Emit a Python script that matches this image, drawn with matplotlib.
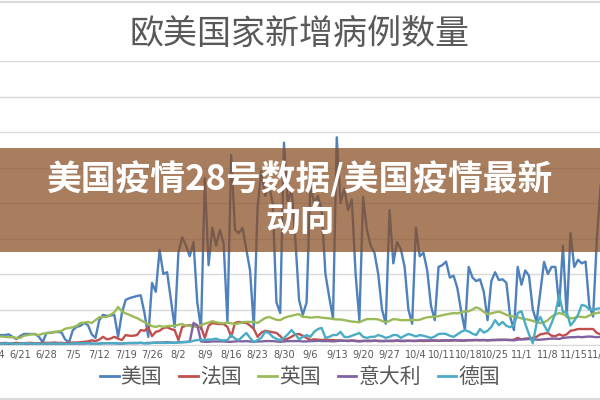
import matplotlib
matplotlib.use('Agg')
import matplotlib.pyplot as plt
import matplotlib.transforms as mtransforms
from matplotlib.lines import Line2D
from matplotlib.patches import Rectangle
import numpy as np

plt.rcParams['font.family'] = ['Noto Sans CJK SC', 'DejaVu Sans']

# daily new cases (thousands), day 1 = 6/15 ... day 161 = 11/22
tick_labels = ['6/14', '6/21', '6/28', '7/5', '7/12', '7/19', '7/26', '8/2',
               '8/9', '8/16', '8/23', '8/30', '9/6', '9/13', '9/20', '9/27',
               '10/4', '10/11', '10/18', '10/25', '11/1', '11/8', '11/15', '11/22']
series_names = ['美国', '法国', '英国', '意大利', '德国']

us = [2.8, 2.8, 2.8, 3.0, 2.3, 1.7, 2.5,
      3.1, 3.1, 3.1, 3.1, 2.3, 0.8, 3.4,
      3.4, 3.6, 3.7, 3.5, 1.5, 0.8, 4.2,
      5.1, 5.4, 6.2, 5.6, 3.0, 2.0, 7.0,
      8.5, 8.2, 8.3, 8.5, 2.3, 9.0, 12.7,
      13.2, 13.5, 13.8, 14.0, 9.0, 2.3, 17.5,
      15.0, 26.8, 20.0, 20.5, 12.7, 5.0, 26.0,
      30.4, 28.0, 25.0, 29.0, 12.0, 4.5, 47.0,
      22.5, 33.0, 28.0, 32.4, 28.5, 6.5, 53.5,
      32.5, 31.5, 33.0, 27.0, 21.0, 5.0, 39.0,
      49.0, 42.0, 45.0, 40.0, 12.0, 9.0, 57.0,
      40.0, 44.0, 30.0, 12.7, 8.5, 12.0, 45.0,
      40.0, 42.0, 38.0, 20.0, 13.5, 7.5, 58.5,
      40.0, 44.0, 38.0, 41.0, 20.0, 7.0, 41.7,
      32.4, 28.0, 26.0, 20.0, 10.0, 6.0, 38.0,
      23.0, 29.0, 27.0, 22.0, 10.0, 6.0, 33.0,
      25.0, 26.0, 21.0, 11.0, 7.0, 22.0, 22.5,
      23.5, 19.0, 19.5, 16.0, 9.5, 4.2, 22.0,
      19.0, 18.0, 18.5, 15.0, 7.0, 18.0, 20.5,
      18.3, 18.5, 17.5, 8.0, 4.2, 22.0, 17.0,
      21.0, 19.5, 10.0, 6.5, 15.0, 23.4, 20.0,
      22.0, 22.0, 11.0, 28.0, 7.9, 31.5, 22.0,
      24.0, 23.0, 23.5, 11.0, 8.0, 30.0, 45.0]

fr = [0.5, 0.5, 0.6, 0.5, 0.5, 0.6, 0.5,
      0.5, 0.6, 0.6, 0.5, 0.5, 0.6, 0.6,
      0.6, 0.7, 0.6, 0.6, 0.5, 0.6, 0.7,
      0.7, 0.8, 0.9, 1.0, 1.3, 1.1, 1.5,
      2.3, 1.6, 1.8, 2.3, 1.8, 1.4, 2.8,
      2.6, 2.6, 2.8, 4.2, 4.0, 5.0, 2.5,
      3.7, 4.0, 4.8, 5.0, 4.5, 4.2, 1.4,
      5.1, 5.4, 5.6, 5.4, 5.2, 5.0, 2.0,
      5.4, 6.2, 6.0, 5.9, 5.9, 5.1, 2.3,
      6.2, 6.5, 6.3, 6.2, 5.5, 4.5, 2.3,
      3.5, 4.0, 3.8, 3.6, 3.4, 2.5, 1.4,
      1.8, 2.3, 3.0, 3.1, 2.6, 2.0, 1.4,
      1.6, 1.5, 1.4, 1.5, 1.4, 1.4, 1.3,
      1.3, 1.2, 1.2, 1.3, 1.2, 1.1, 1.2,
      1.1, 1.1, 1.2, 1.1, 1.1, 1.2, 1.1,
      1.1, 1.2, 1.1, 1.1, 1.2, 1.2, 1.1,
      1.2, 1.1, 1.2, 1.2, 1.3, 1.2, 1.2,
      1.3, 1.2, 1.3, 1.3, 1.2, 1.3, 1.4,
      1.3, 1.4, 1.3, 1.4, 1.3, 1.4, 1.4,
      1.4, 1.4, 1.5, 1.4, 1.5, 2.0, 1.6,
      1.8, 1.9, 2.0, 2.3, 3.0, 3.2, 3.4,
      2.6, 2.5, 3.0, 2.6, 3.0, 4.0, 4.2,
      4.5, 4.5, 4.5, 4.5, 4.5, 3.4, 3.0]

uk = [2.3, 2.4, 2.3, 2.2, 2.2, 2.0, 2.0,
      2.6, 2.8, 3.0, 3.0, 2.8, 3.2, 3.3,
      3.5, 3.7, 3.8, 4.0, 4.6, 4.8, 5.0,
      5.4, 6.2, 6.3, 6.5, 6.2, 7.0, 7.8,
      7.9, 7.9, 8.5, 9.2, 10.7, 9.5, 8.9,
      8.5, 8.0, 7.6, 7.0, 6.4, 5.9, 5.3,
      5.1, 5.4, 5.1, 5.3, 5.4, 5.4, 5.7,
      5.9, 5.4, 5.4, 5.2, 5.1, 5.6, 6.0,
      6.3, 6.7, 6.4, 6.2, 6.1, 6.3, 6.1,
      5.9, 6.1, 6.4, 6.5, 6.5, 6.5, 6.2,
      6.9, 7.6, 7.9, 7.5, 7.1, 7.0, 7.6,
      8.0, 8.2, 8.5, 8.7, 7.9, 7.9, 7.7,
      7.8, 7.9, 7.7, 7.6, 7.5, 7.3, 7.2,
      7.2, 7.0, 6.8, 6.6, 6.5, 6.4, 6.9,
      7.3, 7.3, 7.3, 7.2, 6.8, 6.4, 6.8,
      7.3, 7.2, 7.0, 7.0, 7.0, 7.1, 7.0,
      7.1, 7.5, 7.8, 7.9, 8.0, 8.1, 8.4,
      8.6, 8.8, 9.0, 8.9, 9.2, 9.4, 9.5,
      10.0, 10.6, 10.2, 9.3, 8.7, 8.9, 9.2,
      9.4, 9.0, 8.5, 8.2, 8.0, 7.8, 7.5,
      7.3, 7.1, 6.8, 6.4, 6.2, 6.4, 7.0,
      8.0, 8.6, 9.0, 8.7, 8.1, 7.5, 7.6,
      8.0, 7.9, 7.8, 8.3, 8.8, 9.0, 9.2]

it = [0.3, 0.3, 0.3, 0.3, 0.3, 0.2, 0.3,
      0.3, 0.3, 0.3, 0.3, 0.3, 0.2, 0.3,
      0.3, 0.3, 0.3, 0.3, 0.3, 0.2, 0.4,
      0.4, 0.4, 0.4, 0.5, 0.4, 0.3, 0.4,
      0.5, 0.5, 0.5, 0.5, 0.4, 0.4, 0.5,
      0.5, 0.5, 0.5, 0.6, 0.5, 0.6, 0.6,
      0.7, 0.7, 0.7, 0.8, 0.7, 0.6, 0.8,
      0.8, 0.9, 0.9, 6.2, 5.6, 1.0, 0.9,
      0.9, 1.0, 1.0, 1.0, 1.0, 0.9, 0.9,
      1.0, 1.1, 1.0, 1.1, 1.0, 0.9, 1.0,
      1.0, 1.1, 1.1, 1.1, 1.0, 0.9, 1.0,
      1.1, 1.1, 1.1, 1.1, 1.0, 1.0, 1.1,
      1.1, 1.2, 1.1, 1.1, 1.1, 1.0, 1.1,
      1.2, 1.2, 1.1, 1.2, 1.1, 1.0, 1.1,
      1.2, 1.2, 1.2, 1.2, 1.1, 1.1, 1.2,
      1.2, 1.3, 1.2, 1.2, 1.2, 1.1, 1.2,
      1.3, 1.3, 1.3, 1.3, 1.2, 1.2, 1.3,
      1.3, 1.3, 1.4, 1.3, 1.3, 1.2, 1.3,
      1.4, 1.4, 1.4, 1.4, 1.3, 1.4, 1.4,
      1.5, 1.5, 1.4, 1.4, 1.3, 1.5, 1.6,
      1.6, 1.7, 1.6, 1.5, 1.5, 1.6, 1.7,
      1.8, 1.8, 1.7, 2.0, 2.1, 2.2, 2.2,
      2.3, 2.2, 2.3, 2.4, 2.3, 2.2, 2.3]

de = [0.4, 0.4, 0.4, 0.5, 0.4, 0.3, 0.4,
      0.4, 0.5, 0.4, 0.4, 0.3, 0.3, 0.4,
      0.4, 0.4, 0.4, 0.4, 0.3, 0.3, 0.4,
      0.5, 0.5, 0.5, 0.5, 0.4, 0.3, 0.4,
      0.5, 0.5, 0.5, 0.5, 0.4, 0.4, 0.5,
      0.6, 0.6, 0.6, 0.6, 0.5, 0.4, 0.6,
      0.6, 0.6, 0.6, 0.6, 0.7, 0.6, 0.7,
      0.8, 0.8, 0.9, 1.2, 1.4, 1.4, 1.4,
      1.5, 1.6, 1.8, 1.4, 1.3, 1.4, 2.8,
      1.8, 1.4, 2.4, 3.4, 2.0, 0.8, 1.4,
      2.0, 3.7, 3.4, 2.3, 1.7, 1.4, 2.0,
      3.0, 4.2, 3.0, 1.6, 2.3, 2.8, 2.3,
      3.7, 4.5, 4.8, 2.0, 2.3, 2.8, 2.8,
      3.7, 2.3, 2.2, 2.6, 3.0, 3.4, 2.3,
      2.0, 2.3, 2.3, 2.8, 2.5, 2.0, 2.3,
      2.8, 2.8, 2.0, 2.6, 3.1, 2.8, 2.4,
      2.8, 2.6, 2.3, 2.0, 2.4, 3.1, 3.2,
      3.1, 2.6, 2.3, 3.0, 3.7, 4.2, 3.8,
      3.2, 2.8, 4.5, 3.5, 4.0, 5.1, 7.0,
      5.6, 6.5, 5.4, 5.0, 5.6, 9.0, 9.5,
      6.0, 3.0, 0.5, 6.0, 7.9, 5.6, 3.7,
      6.2, 9.0, 14.0, 9.3, 9.3, 5.5, 6.8,
      8.5, 11.3, 11.0, 10.0, 9.9, 10.2, 10.4]

colors = ['#4F81BD', '#C0504D', '#9BBB59', '#8064A2', '#4BACC6']
grey_text = '#595959'
grid_grey = '#D9D9D9'

fig = plt.figure(figsize=(6, 4), dpi=100)
fig.patch.set_facecolor('white')

# plot area: x axis at y=345px, top gridline at y=61px
ax = fig.add_axes([0, 55 / 400, 1, 284 / 400])
days = np.arange(1, len(us) + 1)
for vals, c in zip([us, fr, uk, it, de], colors):
    ax.plot(days, vals, color=c, lw=1.7, solid_joinstyle='round')

ax.set_xlim(1.671, 160.83)
ax.set_ylim(0, 80)
ax.set_yticks(np.arange(0, 81, 10))
ax.yaxis.grid(True, color=grid_grey, lw=1)
ax.set_axisbelow(True)
ax.tick_params(left=False, labelleft=False, bottom=False, labelbottom=False)
for side in ['top', 'left', 'right']:
    ax.spines[side].set_visible(False)
ax.spines['bottom'].set_color(grid_grey)

# weekly date labels, the outer ones run off the picture edge as in the source
trans = mtransforms.blended_transform_factory(ax.transData, fig.transFigure)
for i, lab in enumerate(tick_labels):
    ax.text(i * 7, 1 - 355 / 400, lab, transform=trans, ha='center', va='center',
            fontsize=7, color=grey_text, family='DejaVu Sans', clip_on=False)

# title
fig.text(0.5, 1 - 34 / 400, '欧美国家新增病例数量', ha='center', va='center',
         fontsize=24.5, color=grey_text)

# legend
handles = [Line2D([], [], color=c, lw=2) for c in colors]
fig.legend(handles, series_names, loc='center', bbox_to_anchor=(0.5, 1 - 377 / 400),
           ncol=5, frameon=False, fontsize=15, handlelength=0.9,
           handletextpad=0.1, columnspacing=0.8, labelcolor=grey_text)

# chart border lines
fig.add_artist(Line2D([0, 1], [1 - 1.5 / 400] * 2, transform=fig.transFigure,
                      color=grid_grey, lw=1.5))
fig.add_artist(Line2D([0, 1], [1 - 398.5 / 400] * 2, transform=fig.transFigure,
                      color=grid_grey, lw=1.5))

# brown banner over the chart
fig.add_artist(Rectangle((0, 1 - 252 / 400), 1, 104 / 400, transform=fig.transFigure,
                         facecolor='#8A4E24', alpha=0.73, lw=0, zorder=5))
fig.text(0.5, 1 - 179 / 400, '美国疫情28号数据/美国疫情最新', ha='center', va='center',
         fontsize=25, fontweight='bold', color='white', zorder=6)
fig.text(0.5, 1 - 221 / 400, '动向', ha='center', va='center',
         fontsize=25, fontweight='bold', color='white', zorder=6)

fig.savefig('out.png', dpi=100)
